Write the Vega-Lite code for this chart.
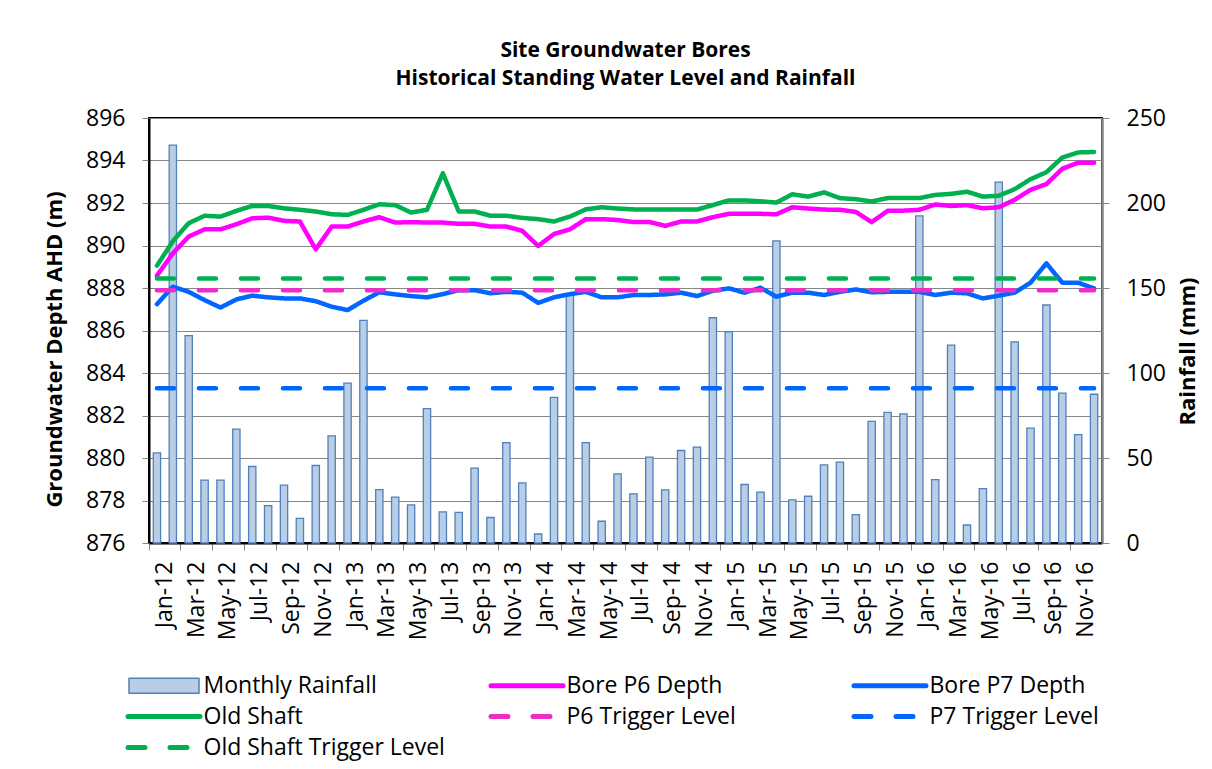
{
  "$schema": "https://vega.github.io/schema/vega-lite/v6.json",
  "autosize": "none",
  "padding": {"left": 149, "top": 118, "right": 110, "bottom": 226},
  "width": 953,
  "height": 425,
  "background": "white",
  "title": {
    "text": ["Site Groundwater Bores", "Historical Standing Water Level and Rainfall"],
    "font": "Open Sans",
    "fontSize": 21,
    "fontWeight": "bold",
    "color": "#000000",
    "anchor": "middle",
    "lineHeight": 28,
    "offset": 18
  },
  "config": {
    "font": "Open Sans",
    "view": {"stroke": "#000000", "strokeWidth": 2},
    "axis": {
      "labelFont": "Open Sans",
      "labelFontSize": 23,
      "labelColor": "#000000",
      "titleFont": "Open Sans",
      "titleFontSize": 22,
      "titleFontWeight": "bold",
      "titleColor": "#000000",
      "tickColor": "#868686",
      "tickSize": 7,
      "tickWidth": 1
    }
  },
  "data": {
    "values": [
      {"month": "Jan-12", "rain": 53, "p6": 888.58, "p7": 887.24, "shaft": 889.05, "p6t": 887.9, "p7t": 883.28, "shaftt": 888.45},
      {"month": "Feb-12", "rain": 234, "p6": 889.63, "p7": 888.06, "shaft": 890.2, "p6t": 887.9, "p7t": 883.28, "shaftt": 888.45},
      {"month": "Mar-12", "rain": 122, "p6": 890.42, "p7": 887.82, "shaft": 891.05, "p6t": 887.9, "p7t": 883.28, "shaftt": 888.45},
      {"month": "Apr-12", "rain": 37, "p6": 890.76, "p7": 887.43, "shaft": 891.4, "p6t": 887.9, "p7t": 883.28, "shaftt": 888.45},
      {"month": "May-12", "rain": 37, "p6": 890.76, "p7": 887.08, "shaft": 891.36, "p6t": 887.9, "p7t": 883.28, "shaftt": 888.45},
      {"month": "Jun-12", "rain": 67, "p6": 891.0, "p7": 887.46, "shaft": 891.63, "p6t": 887.9, "p7t": 883.28, "shaftt": 888.45},
      {"month": "Jul-12", "rain": 45, "p6": 891.28, "p7": 887.64, "shaft": 891.86, "p6t": 887.9, "p7t": 883.28, "shaftt": 888.45},
      {"month": "Aug-12", "rain": 22, "p6": 891.31, "p7": 887.56, "shaft": 891.86, "p6t": 887.9, "p7t": 883.28, "shaftt": 888.45},
      {"month": "Sep-12", "rain": 34, "p6": 891.16, "p7": 887.51, "shaft": 891.75, "p6t": 887.9, "p7t": 883.28, "shaftt": 888.45},
      {"month": "Oct-12", "rain": 14.5, "p6": 891.13, "p7": 887.51, "shaft": 891.68, "p6t": 887.9, "p7t": 883.28, "shaftt": 888.45},
      {"month": "Nov-12", "rain": 45.6, "p6": 889.82, "p7": 887.38, "shaft": 891.6, "p6t": 887.9, "p7t": 883.28, "shaftt": 888.45},
      {"month": "Dec-12", "rain": 63, "p6": 890.89, "p7": 887.12, "shaft": 891.47, "p6t": 887.9, "p7t": 883.28, "shaftt": 888.45},
      {"month": "Jan-13", "rain": 94, "p6": 890.89, "p7": 886.96, "shaft": 891.44, "p6t": 887.9, "p7t": 883.28, "shaftt": 888.45},
      {"month": "Feb-13", "rain": 131, "p6": 891.13, "p7": 887.4, "shaft": 891.68, "p6t": 887.9, "p7t": 883.28, "shaftt": 888.45},
      {"month": "Mar-13", "rain": 31.4, "p6": 891.33, "p7": 887.8, "shaft": 891.94, "p6t": 887.9, "p7t": 883.28, "shaftt": 888.45},
      {"month": "Apr-13", "rain": 27, "p6": 891.08, "p7": 887.7, "shaft": 891.9, "p6t": 887.9, "p7t": 883.28, "shaftt": 888.45},
      {"month": "May-13", "rain": 22.4, "p6": 891.1, "p7": 887.62, "shaft": 891.55, "p6t": 887.9, "p7t": 883.28, "shaftt": 888.45},
      {"month": "Jun-13", "rain": 79, "p6": 891.08, "p7": 887.56, "shaft": 891.68, "p6t": 887.9, "p7t": 883.28, "shaftt": 888.45},
      {"month": "Jul-13", "rain": 18.3, "p6": 891.08, "p7": 887.71, "shaft": 893.4, "p6t": 887.9, "p7t": 883.28, "shaftt": 888.45},
      {"month": "Aug-13", "rain": 18, "p6": 891.02, "p7": 887.9, "shaft": 891.6, "p6t": 887.9, "p7t": 883.28, "shaftt": 888.45},
      {"month": "Sep-13", "rain": 44, "p6": 891.02, "p7": 887.9, "shaft": 891.6, "p6t": 887.9, "p7t": 883.28, "shaftt": 888.45},
      {"month": "Oct-13", "rain": 15, "p6": 890.89, "p7": 887.75, "shaft": 891.4, "p6t": 887.9, "p7t": 883.28, "shaftt": 888.45},
      {"month": "Nov-13", "rain": 59, "p6": 890.89, "p7": 887.82, "shaft": 891.4, "p6t": 887.9, "p7t": 883.28, "shaftt": 888.45},
      {"month": "Dec-13", "rain": 35.4, "p6": 890.69, "p7": 887.78, "shaft": 891.3, "p6t": 887.9, "p7t": 883.28, "shaftt": 888.45},
      {"month": "Jan-14", "rain": 5.3, "p6": 889.98, "p7": 887.3, "shaft": 891.24, "p6t": 887.9, "p7t": 883.28, "shaftt": 888.45},
      {"month": "Feb-14", "rain": 85.7, "p6": 890.54, "p7": 887.56, "shaft": 891.13, "p6t": 887.9, "p7t": 883.28, "shaftt": 888.45},
      {"month": "Mar-14", "rain": 146, "p6": 890.76, "p7": 887.71, "shaft": 891.36, "p6t": 887.9, "p7t": 883.28, "shaftt": 888.45},
      {"month": "Apr-14", "rain": 59, "p6": 891.24, "p7": 887.82, "shaft": 891.7, "p6t": 887.9, "p7t": 883.28, "shaftt": 888.45},
      {"month": "May-14", "rain": 12.8, "p6": 891.24, "p7": 887.56, "shaft": 891.8, "p6t": 887.9, "p7t": 883.28, "shaftt": 888.45},
      {"month": "Jun-14", "rain": 40.7, "p6": 891.2, "p7": 887.56, "shaft": 891.74, "p6t": 887.9, "p7t": 883.28, "shaftt": 888.45},
      {"month": "Jul-14", "rain": 28.9, "p6": 891.1, "p7": 887.67, "shaft": 891.7, "p6t": 887.9, "p7t": 883.28, "shaftt": 888.45},
      {"month": "Aug-14", "rain": 50.5, "p6": 891.11, "p7": 887.67, "shaft": 891.7, "p6t": 887.9, "p7t": 883.28, "shaftt": 888.45},
      {"month": "Sep-14", "rain": 31.3, "p6": 890.92, "p7": 887.7, "shaft": 891.7, "p6t": 887.9, "p7t": 883.28, "shaftt": 888.45},
      {"month": "Oct-14", "rain": 54.4, "p6": 891.13, "p7": 887.78, "shaft": 891.7, "p6t": 887.9, "p7t": 883.28, "shaftt": 888.45},
      {"month": "Nov-14", "rain": 56.4, "p6": 891.13, "p7": 887.62, "shaft": 891.69, "p6t": 887.9, "p7t": 883.28, "shaftt": 888.45},
      {"month": "Dec-14", "rain": 132.5, "p6": 891.33, "p7": 887.87, "shaft": 891.9, "p6t": 887.9, "p7t": 883.28, "shaftt": 888.45},
      {"month": "Jan-15", "rain": 124.2, "p6": 891.49, "p7": 887.98, "shaft": 892.12, "p6t": 887.9, "p7t": 883.28, "shaftt": 888.45},
      {"month": "Feb-15", "rain": 34.4, "p6": 891.5, "p7": 887.78, "shaft": 892.12, "p6t": 887.9, "p7t": 883.28, "shaftt": 888.45},
      {"month": "Mar-15", "rain": 29.9, "p6": 891.49, "p7": 888.01, "shaft": 892.08, "p6t": 887.9, "p7t": 883.28, "shaftt": 888.45},
      {"month": "Apr-15", "rain": 177.7, "p6": 891.47, "p7": 887.59, "shaft": 892.02, "p6t": 887.9, "p7t": 883.28, "shaftt": 888.45},
      {"month": "May-15", "rain": 25.4, "p6": 891.8, "p7": 887.78, "shaft": 892.41, "p6t": 887.9, "p7t": 883.28, "shaftt": 888.45},
      {"month": "Jun-15", "rain": 27.5, "p6": 891.74, "p7": 887.78, "shaft": 892.3, "p6t": 887.9, "p7t": 883.28, "shaftt": 888.45},
      {"month": "Jul-15", "rain": 46, "p6": 891.69, "p7": 887.67, "shaft": 892.5, "p6t": 887.9, "p7t": 883.28, "shaftt": 888.45},
      {"month": "Aug-15", "rain": 47.6, "p6": 891.68, "p7": 887.82, "shaft": 892.23, "p6t": 887.9, "p7t": 883.28, "shaftt": 888.45},
      {"month": "Sep-15", "rain": 16.7, "p6": 891.58, "p7": 887.93, "shaft": 892.18, "p6t": 887.9, "p7t": 883.28, "shaftt": 888.45},
      {"month": "Oct-15", "rain": 71.5, "p6": 891.1, "p7": 887.8, "shaft": 892.07, "p6t": 887.9, "p7t": 883.28, "shaftt": 888.45},
      {"month": "Nov-15", "rain": 76.8, "p6": 891.63, "p7": 887.82, "shaft": 892.23, "p6t": 887.9, "p7t": 883.28, "shaftt": 888.45},
      {"month": "Dec-15", "rain": 75.9, "p6": 891.64, "p7": 887.82, "shaft": 892.23, "p6t": 887.9, "p7t": 883.28, "shaftt": 888.45},
      {"month": "Jan-16", "rain": 192.4, "p6": 891.68, "p7": 887.82, "shaft": 892.23, "p6t": 887.9, "p7t": 883.28, "shaftt": 888.45},
      {"month": "Feb-16", "rain": 37.3, "p6": 891.93, "p7": 887.67, "shaft": 892.38, "p6t": 887.9, "p7t": 883.28, "shaftt": 888.45},
      {"month": "Mar-16", "rain": 116.4, "p6": 891.86, "p7": 887.78, "shaft": 892.43, "p6t": 887.9, "p7t": 883.28, "shaftt": 888.45},
      {"month": "Apr-16", "rain": 10.6, "p6": 891.9, "p7": 887.75, "shaft": 892.53, "p6t": 887.9, "p7t": 883.28, "shaftt": 888.45},
      {"month": "May-16", "rain": 32, "p6": 891.75, "p7": 887.51, "shaft": 892.3, "p6t": 887.9, "p7t": 883.28, "shaftt": 888.45},
      {"month": "Jun-16", "rain": 212.3, "p6": 891.8, "p7": 887.64, "shaft": 892.34, "p6t": 887.9, "p7t": 883.28, "shaftt": 888.45},
      {"month": "Jul-16", "rain": 118.3, "p6": 892.15, "p7": 887.78, "shaft": 892.65, "p6t": 887.9, "p7t": 883.28, "shaftt": 888.45},
      {"month": "Aug-16", "rain": 67.6, "p6": 892.62, "p7": 888.25, "shaft": 893.12, "p6t": 887.9, "p7t": 883.28, "shaftt": 888.45},
      {"month": "Sep-16", "rain": 140, "p6": 892.89, "p7": 889.16, "shaft": 893.45, "p6t": 887.9, "p7t": 883.28, "shaftt": 888.45},
      {"month": "Oct-16", "rain": 88.2, "p6": 893.61, "p7": 888.25, "shaft": 894.14, "p6t": 887.9, "p7t": 883.28, "shaftt": 888.45},
      {"month": "Nov-16", "rain": 63.7, "p6": 893.9, "p7": 888.25, "shaft": 894.38, "p6t": 887.9, "p7t": 883.28, "shaftt": 888.45},
      {"month": "Dec-16", "rain": 87.5, "p6": 893.9, "p7": 887.98, "shaft": 894.4, "p6t": 887.9, "p7t": 883.28, "shaftt": 888.45}
    ]
  },
  "layer": [
    {
      "mark": {"type": "bar", "fill": "#B9CDE5", "stroke": "#4F81BD", "strokeWidth": 1.3, "width": {"band": 0.46}},
      "encoding": {
        "x": {
          "field": "month",
          "type": "ordinal",
          "sort": null,
          "scale": {"type": "band", "paddingInner": 0, "paddingOuter": 0},
          "axis": {
            "title": null,
            "values": ["Jan-12","Mar-12","May-12","Jul-12","Sep-12","Nov-12","Jan-13","Mar-13","May-13","Jul-13","Sep-13","Nov-13","Jan-14","Mar-14","May-14","Jul-14","Sep-14","Nov-14","Jan-15","Mar-15","May-15","Jul-15","Sep-15","Nov-15","Jan-16","Mar-16","May-16","Jul-16","Sep-16","Nov-16"],
            "bandPosition": 0,
            "labelOffset": 8,
            "labelAngle": -90,
            "labelAlign": "right",
            "labelBaseline": "middle",
            "labelPadding": 11,
            "labelOverlap": false,
            "labelBound": false,
            "labelFlush": false,
            "domainColor": "#000000",
            "domainWidth": 2,
            "grid": false
          }
        },
        "y": {
          "field": "rain",
          "type": "quantitative",
          "scale": {"domain": [0, 250]},
          "axis": {
            "orient": "right",
            "title": "Rainfall (mm)",
            "values": [0, 50, 100, 150, 200, 250],
            "grid": false,
            "domainColor": "#868686",
            "domainWidth": 2.5,
            "labelPadding": 17,
            "titleAngle": -90,
            "titleX": 85,
            "titleY": 233,
            "titleAlign": "center",
            "titleBaseline": "middle"
          }
        }
      }
    },
    {
      "transform": [{"fold": ["p6", "p7", "shaft", "p6t", "p7t", "shaftt"], "as": ["series", "level"]}],
      "mark": {"type": "line", "strokeWidth": 4.5, "strokeCap": "round", "strokeJoin": "round"},
      "encoding": {
        "x": {"field": "month", "type": "ordinal", "sort": null},
        "y": {
          "field": "level",
          "type": "quantitative",
          "scale": {"domain": [876, 896], "zero": false},
          "axis": {
            "orient": "left",
            "title": "Groundwater Depth AHD (m)",
            "values": [876, 878, 880, 882, 884, 886, 888, 890, 892, 894, 896],
            "format": "d",
            "grid": true,
            "gridColor": "#868686",
            "gridWidth": 1,
            "domainColor": "#000000",
            "domainWidth": 2,
            "labelPadding": 17,
            "titleAngle": -90,
            "titleX": -95,
            "titleY": 231,
            "titleAlign": "center",
            "titleBaseline": "middle"
          }
        },
        "color": {
          "field": "series",
          "type": "nominal",
          "scale": {
            "domain": ["rain", "p6", "p7", "shaft", "p6t", "p7t", "shaftt"],
            "range": ["#4F81BD", "#FF00FF", "#0066FF", "#00B050", "#EE2CC8", "#0066FF", "#00B050"]
          },
          "legend": {
            "orient": "none",
            "direction": "horizontal",
            "legendX": -21,
            "legendY": 556,
            "title": null,
            "columns": 3,
            "gridAlign": "all",
            "columnPadding": 36,
            "rowPadding": 7,
            "symbolSize": 100,
            "symbolOffset": 24.5,
            "labelOffset": 28,
            "symbolStrokeWidth": 5,
            "labelFont": "Open Sans",
            "labelFontSize": 23,
            "labelColor": "#000000",
            "labelLimit": 0,
            "labelExpr": "datum.label === 'rain' ? 'Monthly Rainfall' : datum.label === 'p6' ? 'Bore P6 Depth' : datum.label === 'p7' ? 'Bore P7 Depth' : datum.label === 'shaft' ? 'Old Shaft' : datum.label === 'p6t' ? 'P6 Trigger Level' : datum.label === 'p7t' ? 'P7 Trigger Level' : 'Old Shaft Trigger Level'",
            "encode": {
              "symbols": {
                "update": {
                  "shape": {"signal": "datum.value === 'rain' ? 'M-7,-1.5H7V1.5H-7Z' : 'M-7.2,0H7.2'"},
                  "fill": {"signal": "datum.value === 'rain' ? '#B9CDE5' : 'transparent'"},
                  "stroke": {"scale": "color", "field": "value"},
                  "strokeWidth": {"signal": "datum.value === 'rain' ? 1.5 : 5"},
                  "strokeDash": {"scale": "strokeDash", "field": "value"},
                  "strokeCap": {"value": "round"},
                  "opacity": {"value": 1}
                }
              }
            }
          }
        },
        "strokeDash": {
          "field": "series",
          "type": "nominal",
          "scale": {
            "domain": ["rain", "p6", "p7", "shaft", "p6t", "p7t", "shaftt"],
            "range": [[1, 0], [1, 0], [1, 0], [1, 0], [17, 25], [17, 25], [17, 25]]
          },
          "legend": null
        }
      }
    }
  ],
  "resolve": {"scale": {"y": "independent"}}
}
